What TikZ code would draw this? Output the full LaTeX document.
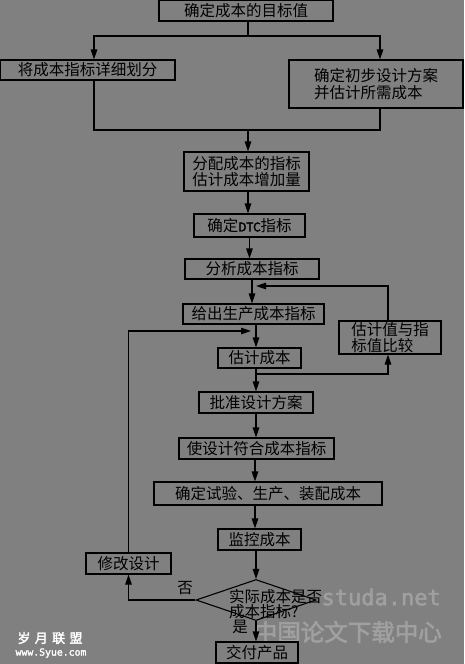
\documentclass[tikz,border=0pt]{standalone}
\usepackage{fontspec}
\newfontfamily\cjk[AutoFakeBold=2.5]{Noto Sans CJK SC}
\newfontfamily\wmmono[AutoFakeBold=2]{DejaVu Sans Mono}
\usetikzlibrary{arrows.meta,shapes.geometric}
\definecolor{bg}{RGB}{128,128,128}
\definecolor{wm}{RGB}{160,160,160}
\begin{document}
\begin{tikzpicture}[x=1pt,y=-1pt,
  box/.style={draw=black, line width=1.1pt, inner sep=0pt, text=black,
    font=\cjk\fontsize{15.5}{16.5}\selectfont},
  ln/.style={line width=1.1pt, draw=black},
  arr/.style={ln, -{Triangle[length=10pt,width=6.5pt]}},
  lbl/.style={inner sep=0pt, text=black, font=\cjk\fontsize{15.5}{15}\selectfont}]
\fill[bg] (0,0) rectangle (464,664);
\useasboundingbox (0,0) rectangle (464,664);

% watermarks
\node[inner sep=0pt, text=white, font=\cjk\bfseries\fontsize{13}{13}\selectfont] (wm1) at (50,638) {岁\,\,月\,\,联\,\,盟};
\node[inner sep=0pt, text=white, font=\wmmono\bfseries\fontsize{9.8}{10}\selectfont] (wm2) at (51,653) {www.Syue.com};
\node[inner sep=0pt, anchor=east, text=wm, font=\wmmono\bfseries\fontsize{22}{22}\selectfont] (wm3) at (441,597) {studa.net};
\node[inner sep=0pt, anchor=east, text=wm, font=\cjk\bfseries\fontsize{23.5}{24}\selectfont] (wm4) at (442,632) {中国论文下载中心};

% boxes
\node[box, minimum width=174, minimum height=21] (b1) at (246,10.5) {确定成本的目标值};
\node[box, minimum width=175, minimum height=20] (b2) at (87.5,70) {将成本指标详细划分};
\node[box, minimum width=174, minimum height=48, align=left] (b3) at (376,84) {确定初步设计方案\\并估计所需成本};
\node[box, minimum width=125, minimum height=39, align=left] (b4) at (246.5,171.5) {分配成本的指标\\估计成本增加量};
\node[box, minimum width=111, minimum height=23] (b5) at (249.5,225.5) {确定{\bfseries\fontsize{12}{12}\selectfont DTC}指标};
\node[box, minimum width=134, minimum height=20] (b6) at (252,269) {分析成本指标};
\node[box, minimum width=141, minimum height=20] (b7) at (253.5,314) {给出生产成本指标};
\node[box, minimum width=102, minimum height=33, align=left] (b8) at (390,337.5) {估计值与指\\标值比较};
\node[box, minimum width=83, minimum height=20] (b9) at (259.5,358) {估计成本};
\node[box, minimum width=114, minimum height=21] (b10) at (256,402.5) {批准设计方案};
\node[box, minimum width=155, minimum height=21] (b11) at (256.5,448.5) {使设计符合成本指标};
\node[box, minimum width=228, minimum height=23] (b12) at (268,493.5) {确定试验、生产、装配成本};
\node[box, minimum width=83, minimum height=21] (b13) at (259.5,539.5) {监控成本};
\node[draw=black, line width=1.1pt, diamond, aspect=3, inner sep=0pt, minimum width=120, minimum height=41] (d) at (256,600) {};
\node[lbl, anchor=west, align=left] (dt) at (229,604.5) {实际成本是否\\成本指标?};
\node[box, minimum width=85, minimum height=21] (bm) at (128.5,563.5) {修改设计};
\node[box, minimum width=82, minimum height=21] (bd) at (257,652.5) {交付产品};
\node[lbl] (no) at (185,588) {否};
\node[lbl] (yes) at (240,627) {是};

% connectors
\coordinate (j1) at (248,36);
\draw[ln] (j1 |- b1.south) -- (j1);
\draw[arr] (j1) -| ([xshift=6.5]b2.north);
\draw[arr] (j1) -| ([xshift=4]b3.north);
\coordinate (j2) at (248,130);
\draw[ln] ([xshift=6.5]b2.south) |- (j2);
\draw[ln] ([xshift=4]b3.south) |- (j2);
\draw[arr] (j2) -- (j2 |- b4.north);
\draw[arr] ([xshift=1.5]b4.south) -- ([xshift=1.5]b4.south |- b5.north);
\draw[arr] (b5.south) -- (b5.south |- b6.north);
\coordinate (j3) at (252,286);
\draw[ln] (b6.south) -- (j3);
\draw[arr] (j3) -- (j3 |- b7.north);
\draw[arr, shorten >=4pt] ([xshift=-2]b8.north) |- (j3);
\draw[arr] ([xshift=2.5]b7.south) -- ([xshift=2.5]b7.south |- b9.north);
\coordinate (j4) at (256,374);
\draw[ln] ([xshift=-3.5]b9.south) -- (j4);
\draw[arr] (j4) -| ([xshift=-2]b8.south);
\draw[arr] (j4) -- (j4 |- b10.north);
\draw[arr] (b10.south) -- (b10.south |- b11.north);
\draw[arr] ([xshift=-1.5]b11.south) -- ([xshift=-1.5]b11.south |- b12.north);
\draw[arr] ([xshift=-13]b12.south) -- ([xshift=-13]b12.south |- b13.north);
\draw[arr] ([xshift=-3.5]b13.south) -- (d.north);
\draw[arr] (d.south) -- (d.south |- bd.north);
\draw[arr] (d.west) -| (bm.south);
\coordinate (j5) at (256,331);
\draw[arr, shorten >=5pt] (bm.north) |- (j5);
\end{tikzpicture}
\end{document}
